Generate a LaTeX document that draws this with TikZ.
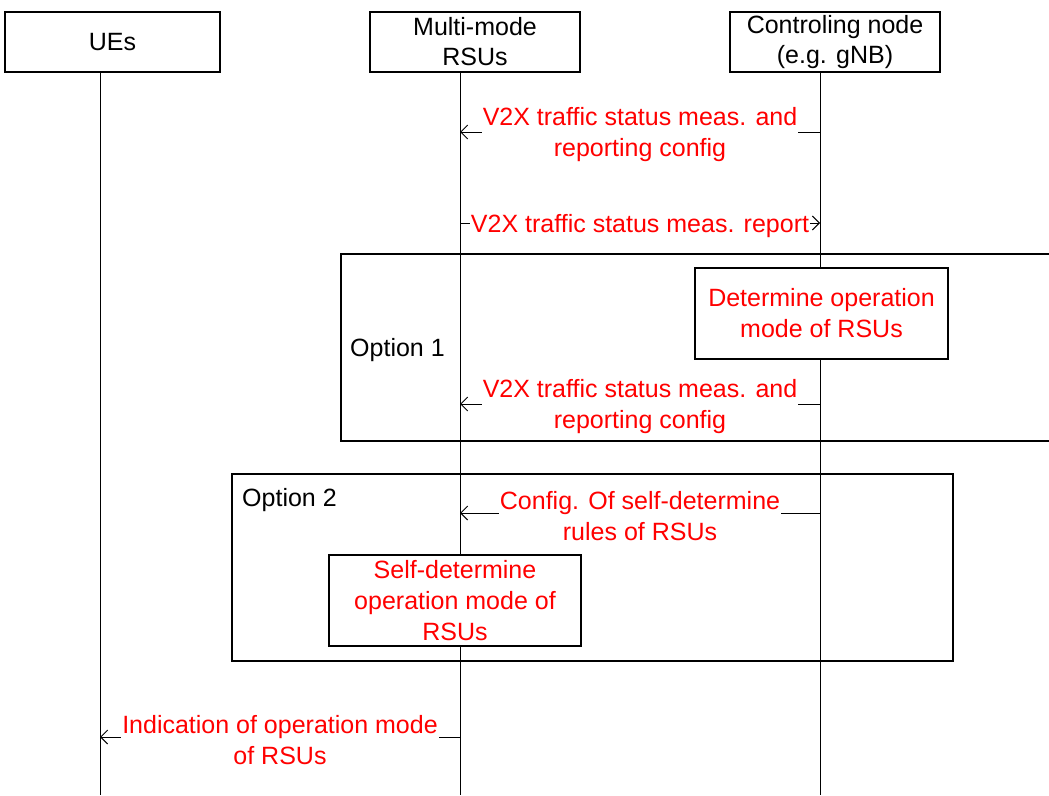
\documentclass[tikz,border=0pt]{standalone}
\usepackage{fontspec}
\setmainfont{Liberation Sans}
\usetikzlibrary{arrows.meta}
\begin{document}
\begin{tikzpicture}[x=1pt,y=-1pt,
  font=\fontsize{25}{31}\selectfont,
  every node/.style={inner sep=0pt},
  hdr/.style={draw, line width=1.4pt, minimum height=60pt, align=center, font=\fontsize{25}{30}\selectfont},
  life/.style={line width=1pt},
  msg/.style={line width=1pt, -{Straight Barb[length=7pt,width=14pt]}},
  lbl/.style={fill=white, text=red, align=center, inner xsep=1pt, inner ysep=2pt, yshift=-3pt},
  actbox/.style={draw, fill=white, line width=1.4pt, text=red, align=center, minimum height=91pt},
  frame/.style={line width=1.4pt},
  optlbl/.style={anchor=west, text=black, yshift=-3pt}
]
\useasboundingbox (0,0) rectangle (1049,795);

% headers
\node[hdr, minimum width=215pt] (ue) at (112.5,42) {UEs};
\node[hdr, minimum width=210pt] (rsu) at (475,42) {Multi-mode\\RSUs};
\node[hdr, minimum width=210pt] (gnb) at (835,42) {Controling node\\(e.g. gNB)};

% lifelines
\coordinate (ueB) at (100,795);
\coordinate (rsuB) at (460,795);
\coordinate (gnbB) at (820,795);
\draw[life] (ue.south -| ueB) -- (ueB);
\draw[life] (rsu.south -| rsuB) -- (rsuB);
\draw[life] (gnb.south -| gnbB) -- (gnbB);

% option frames
\draw[frame] (1049,254) -- (341,254) -- (341,441) -- (1049,441);
\node[optlbl] (opt1) at (350,347) {Option 1};
\draw[frame] (232,474) rectangle (953,661);
\node[optlbl] (opt2) at (242,497) {Option 2};

% messages
\coordinate (m1a) at (820,132); \coordinate (m1b) at (460,132);
\draw[msg] (m1a) -- node[lbl] {V2X traffic status meas. and\\reporting config} (m1b);

\coordinate (m2a) at (460,223); \coordinate (m2b) at (820,223);
\draw[msg] (m2a) -- node[lbl] {V2X traffic status meas. report} (m2b);

\coordinate (m3a) at (820,404); \coordinate (m3b) at (460,404);
\draw[msg] (m3a) -- node[lbl] {V2X traffic status meas. and\\reporting config} (m3b);

\coordinate (m4a) at (820,513); \coordinate (m4b) at (460,513);
\draw[msg] (m4a) -- node[lbl] {Config. Of self-determine\\rules of RSUs} (m4b);

\coordinate (m5a) at (460,737); \coordinate (m5b) at (100,737);
\draw[msg] (m5a) -- node[lbl] {Indication of operation mode\\of RSUs} (m5b);

% action boxes
\node[actbox, minimum width=253pt] (det) at (821.5,313.5) {Determine operation\\mode of RSUs};
\node[actbox, minimum width=252pt] (self) at (455,600.5) {Self-determine\\operation mode of\\RSUs};
\end{tikzpicture}
\end{document}
